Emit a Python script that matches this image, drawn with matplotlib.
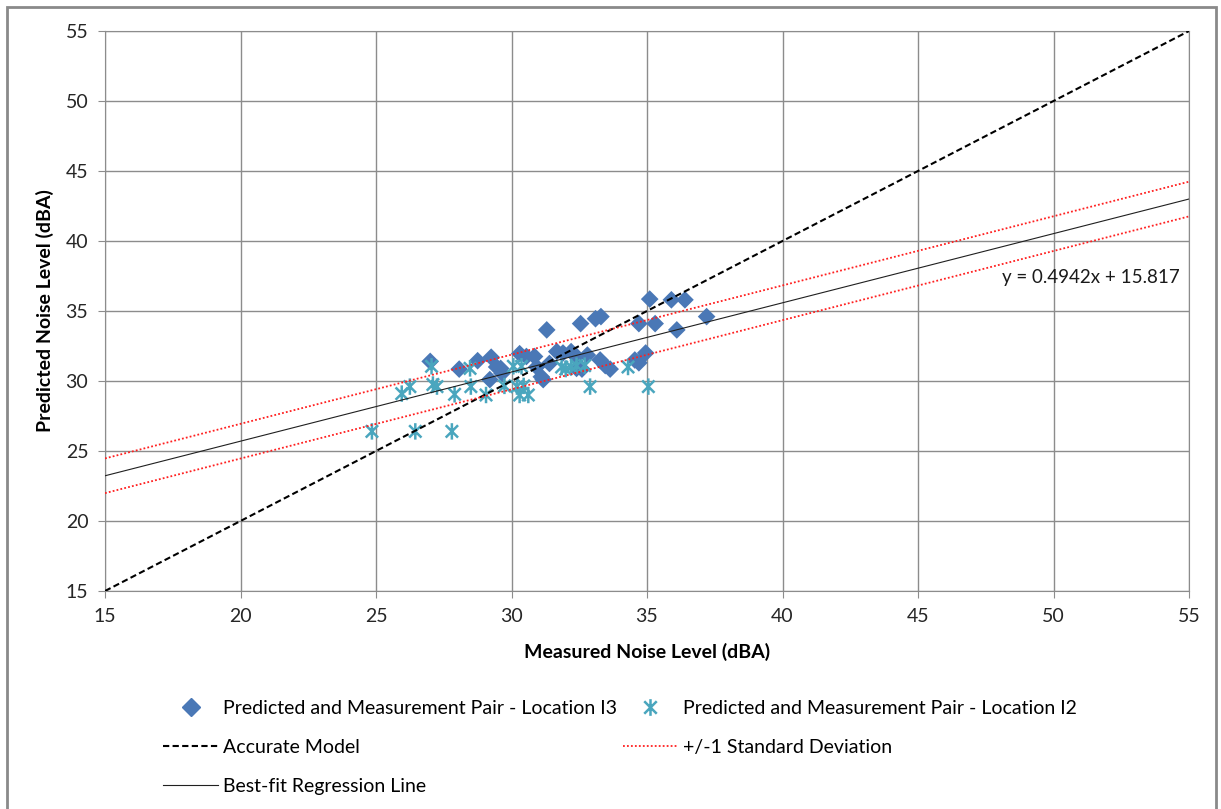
import matplotlib
matplotlib.use("Agg")
import matplotlib.pyplot as plt
from matplotlib.path import Path
from matplotlib.patches import Rectangle
from matplotlib.lines import Line2D
import numpy as np

plt.rcParams["font.family"] = ["Lato", "DejaVu Sans"]

# measured vs predicted pairs, location I3 (dBA)
i3_measured = [27.0, 28.07, 28.75, 29.25, 29.45, 29.2, 29.65, 29.6, 30.3, 30.55,
               30.85, 30.93, 31.1, 31.17, 31.4, 31.67, 31.9, 31.3, 32.2, 32.4,
               32.8, 33.27, 33.46, 33.64, 32.6, 32.55, 33.1, 33.3, 35.1, 35.9,
               36.4, 37.2, 34.7, 35.3, 36.1, 34.55, 34.95, 34.7, 32.4]
i3_predicted = [31.4, 30.85, 31.45, 31.7, 31.0, 30.1, 30.55, 30.9, 31.95, 31.75,
                31.75, 31.0, 30.3, 30.1, 31.25, 32.1, 32.0, 33.65, 32.1, 31.75,
                31.85, 31.5, 31.1, 30.85, 30.85, 34.1, 34.45, 34.6, 35.85, 35.8,
                35.8, 34.6, 34.1, 34.1, 33.65, 31.5, 32.0, 31.3, 30.9]

# measured vs predicted pairs, location I2 (dBA)
i2_measured = [24.85, 26.45, 27.8, 25.95, 26.25, 27.1, 27.25, 27.05, 27.9, 28.5,
               28.47, 29.06, 29.74, 30.07, 30.37, 30.2, 30.3, 30.62, 30.45, 31.85,
               32.0, 32.2, 32.4, 32.7, 32.9, 34.3, 35.05]
i2_predicted = [26.4, 26.4, 26.4, 29.1, 29.6, 29.75, 29.6, 31.05, 29.05, 29.6,
                30.9, 29.0, 29.65, 31.05, 31.05, 29.6, 29.0, 29.0, 29.65, 31.0,
                30.85, 31.0, 31.1, 31.1, 29.6, 31.0, 29.6]

# best-fit regression and its +/- 1 SD band
SLOPE, INTERCEPT = 0.4942, 15.817
SD = 1.24
line_x = np.array([15, 55])

# asterisk marker: vertical bar plus an X
star = Path([(0, -1), (0, 1), (-0.75, -0.75), (0.75, 0.75), (-0.75, 0.75), (0.75, -0.75)],
            [Path.MOVETO, Path.LINETO] * 3)

W, H = 1221, 809
FS = 14
fig = plt.figure(figsize=(W / 100, H / 100), dpi=100)
ax = fig.add_axes([105 / W, 1 - 591 / H, (1189 - 105) / W, (591 - 31) / H])

GRID = "#8c8c8c"
BLUE, TEAL, RED = "#4a78b6", "#4aa6be", "#ff2020"
DASH, DOT = (0, (3, 1.6)), (0, (1, 1.2))

ax.scatter(i3_measured, i3_predicted, marker="D", s=81, color=BLUE,
           edgecolor="none", zorder=3)
ax.scatter(i2_measured, i2_predicted, marker=star, s=140, facecolor="none",
           edgecolor=TEAL, linewidth=1.8, zorder=4)
ax.plot(line_x, line_x, color="black", ls=DASH, lw=1.5, zorder=5)
reg = SLOPE * line_x + INTERCEPT
ax.plot(line_x, reg + SD, color=RED, ls=DOT, lw=1.3, zorder=5)
ax.plot(line_x, reg - SD, color=RED, ls=DOT, lw=1.3, zorder=5)
ax.plot(line_x, reg, color="#202020", lw=0.8, zorder=5)

ax.text(48.1, 37.4, f"y = {SLOPE}x + {INTERCEPT}", fontsize=13.5,
        ha="left", va="center", color="#1a1a1a")

ax.set_xlim(15, 55)
ax.set_ylim(15, 55)
ax.set_xticks(range(15, 56, 5))
ax.set_yticks(range(15, 56, 5))
ax.grid(True, color=GRID, lw=1)
ax.set_axisbelow(True)
for sp in ax.spines.values():
    sp.set_color(GRID)
ax.tick_params(direction="out", length=5, color=GRID, labelsize=FS,
               labelcolor="#262626", pad=7)
ax.set_xlabel("Measured Noise Level (dBA)", fontsize=FS, fontweight="bold")
ax.set_ylabel("Predicted Noise Level (dBA)", fontsize=FS, fontweight="bold")
ax.xaxis.set_label_coords(0.5, -0.092)
ax.yaxis.set_label_coords(-0.047, 0.5)

handles = [
    Line2D([], [], marker="D", ls="none", color=BLUE, markersize=9),
    Line2D([], [], color="black", ls=DASH, lw=1.5),
    Line2D([], [], color="#202020", lw=0.8),
    Line2D([], [], marker=star, ls="none", markerfacecolor="none",
           markeredgecolor=TEAL, markersize=12, markeredgewidth=1.8),
    Line2D([], [], color=RED, ls=DOT, lw=1.3),
]
labels = ["Predicted and Measurement Pair - Location I3", "Accurate Model",
          "Best-fit Regression Line", "Predicted and Measurement Pair - Location I2",
          "+/-1 Standard Deviation"]
fig.legend(handles, labels, loc="upper left", bbox_to_anchor=(163 / W, 1 - 700 / H),
           ncol=2, frameon=False, fontsize=FS, borderpad=0, borderaxespad=0,
           handlelength=2.83, handletextpad=0.26, columnspacing=0.3,
           labelspacing=1.12)

fig.patches.append(Rectangle((7 / W, -0.01), (1216 - 7) / W, 1.01 - 7 / H,
                             transform=fig.transFigure, fill=False,
                             edgecolor="#8a8a8a", lw=2))

fig.savefig("out.png", dpi=100)
